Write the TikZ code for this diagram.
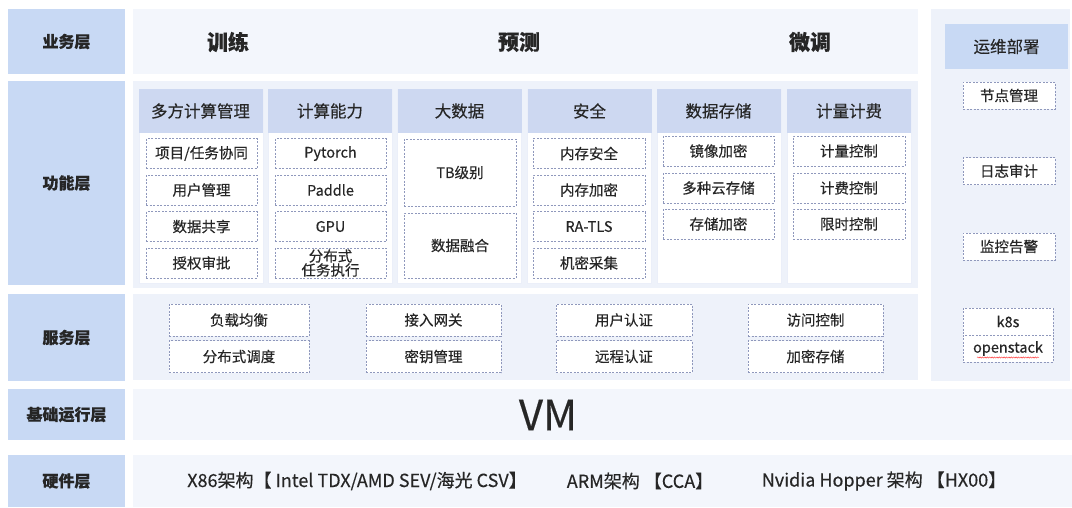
\documentclass[tikz,border=0pt]{standalone}
\usepackage{fontspec}
\setmainfont{Noto Sans CJK SC}[FakeBold=0.35]
\usetikzlibrary{decorations.pathmorphing}
\definecolor{labelblue}{HTML}{C8D9F4}
\definecolor{headblue}{HTML}{CDD8F1}
\definecolor{panel}{HTML}{EEF2FA}
\definecolor{topbar}{HTML}{F3F6FC}
\definecolor{dashc}{HTML}{8F98BC}
\definecolor{ink}{HTML}{262626}
\begin{document}
\begin{tikzpicture}[x=1pt,y=-1pt,
  every node/.style={inner sep=0pt, outer sep=0pt, text=ink},
  layerlabel/.style={fill=labelblue, minimum width=117pt, font=\fontsize{16}{18}\selectfont\bfseries},
  panelbox/.style={fill=panel},
  colhead/.style={fill=headblue, minimum width=124pt, minimum height=44pt, font=\fontsize{16.5}{18}\selectfont},
  colbody/.style={fill=white, draw=headblue!40, line width=0.4pt},
  item/.style={draw=dashc, line width=0.6pt, dash pattern=on 2pt off 1.5pt, fill=white,
    minimum height=30pt, align=center, font=\fontsize{14.5}{15}\selectfont},
  svc/.style={item, minimum height=32pt},
  opsitem/.style={item, minimum width=92pt, minimum height=27pt, font=\fontsize{14.5}{15}\selectfont},
  bigword/.style={font=\fontsize{21}{24}\selectfont\bfseries},
  hwtext/.style={font=\fontsize{18}{20}\selectfont}]
\useasboundingbox (0,0) rectangle (1072,507);

% layer labels
\node[layerlabel, minimum height=65pt]  (lbiz)  at (66.5,41.5)  {业务层};
\node[layerlabel, minimum height=204pt] (lfun)  at (66.5,183)   {功能层};
\node[layerlabel, minimum height=87pt]  (lsvc)  at (66.5,337.5) {服务层};
\node[layerlabel, minimum height=51pt]  (lbase) at (66.5,414.5) {基础运行层};
\node[layerlabel, minimum height=52pt]  (lhw)   at (66.5,481)   {硬件层};

% business layer
\fill[topbar] (133,9) rectangle (918,74);
\node[bigword] (train)   at (228,42) {训练};
\node[bigword] (predict) at (519,42) {预测};
\node[bigword] (tune)    at (810,42) {微调};

% function layer background and columns
\fill[panelbox] (133,81) rectangle (918,288);
\foreach \x in {139,268,397,527,657,787}
  \draw[colbody] (\x,89) rectangle ++(124,194);
\node[colhead] (h1) at (200.5,111) {多方计算管理};
\node[colhead] (h2) at (330,111)   {计算能力};
\node[colhead] (h3) at (459.5,111) {大数据};
\node[colhead] (h4) at (589.5,111) {安全};
\node[colhead] (h5) at (718.5,111) {数据存储};
\node[colhead] (h6) at (849,111)   {计量计费};

% column 1
\node[item, minimum width=111pt] (c1a) at (201.5,153.5) {项目/任务协同};
\node[item, minimum width=111pt] (c1b) at (201.5,190)   {用户管理};
\node[item, minimum width=111pt] (c1c) at (201.5,226.5) {数据共享};
\node[item, minimum width=111pt] (c1d) at (201.5,263)   {授权审批};
% column 2
\node[item, minimum width=111pt] (c2a) at (330.5,153.5) {Pytorch};
\node[item, minimum width=111pt] (c2b) at (330.5,190)   {Paddle};
\node[item, minimum width=111pt] (c2c) at (330.5,226.5) {GPU};
\node[item, minimum width=111pt, font=\fontsize{14.5}{14}\selectfont] (c2d) at (330.5,263) {分布式\\任务执行};
% column 3
\node[item, minimum width=112pt, minimum height=67pt] (c3a) at (460,172.5) {TB级别};
\node[item, minimum width=112pt, minimum height=65pt] (c3b) at (460,245.5) {数据融合};
% column 4
\node[item, minimum width=112pt] (c4a) at (589,153.5) {内存安全};
\node[item, minimum width=112pt] (c4b) at (589,190)   {内存加密};
\node[item, minimum width=112pt] (c4c) at (589,226.5) {RA-TLS};
\node[item, minimum width=112pt] (c4d) at (589,263)   {机密采集};
% column 5
\node[item, minimum width=111pt] (c5a) at (718.5,151) {镜像加密};
\node[item, minimum width=111pt] (c5b) at (718.5,188) {多种云存储};
\node[item, minimum width=111pt] (c5c) at (718.5,224) {存储加密};
% column 6
\node[item, minimum width=112pt] (c6a) at (849,151) {计量控制};
\node[item, minimum width=112pt] (c6b) at (849,188) {计费控制};
\node[item, minimum width=112pt] (c6c) at (849,224) {限时控制};

% service layer
\fill[panelbox] (133,294) rectangle (918,380);
\node[svc, minimum width=140pt] (s1a) at (239,320)     {负载均衡};
\node[svc, minimum width=140pt] (s1b) at (239,356.5)   {分布式调度};
\node[svc, minimum width=135pt] (s2a) at (433.5,320)   {接入网关};
\node[svc, minimum width=135pt] (s2b) at (433.5,356.5) {密钥管理};
\node[svc, minimum width=136pt] (s3a) at (624,320)     {用户认证};
\node[svc, minimum width=136pt] (s3b) at (624,356.5)   {远程认证};
\node[svc, minimum width=135pt] (s4a) at (815.5,320)   {访问控制};
\node[svc, minimum width=135pt] (s4b) at (815.5,356.5) {加密存储};

% operations column
\fill[panelbox] (931,9) rectangle (1070,381);
\node[fill=labelblue, minimum width=123pt, minimum height=45pt, font=\fontsize{16.5}{18}\selectfont] (ops) at (1006.5,46.5) {运维部署};
\node[opsitem] (o1) at (1009,95.5)  {节点管理};
\node[opsitem] (o2) at (1009,171)   {日志审计};
\node[opsitem] (o3) at (1009,246.5) {监控告警};
\node[opsitem, minimum width=90pt] (o4) at (1008,321.5) {k8s};
\node[opsitem, minimum width=90pt] (o5) at (1008,348.5) {openstack};
\draw[red!80, line width=0.45pt, decorate, decoration={snake, segment length=2.4pt, amplitude=0.6pt}]
  ([xshift=-31pt,yshift=-9pt]o5.center) -- ([xshift=31pt,yshift=-9pt]o5.center);

% base runtime layer
\fill[topbar] (133,389) rectangle (1072,440);
\node[font=\fontsize{42}{44}\selectfont] (vm) at (548,415) {VM};

% hardware layer
\fill[topbar] (133,455) rectangle (1072,507);
\node[hwtext] (hw1) at (357,481) {X86架构【 Intel TDX/AMD SEV/海光 CSV】};
\node[hwtext] (hw2) at (640,481) {ARM架构 【CCA】};
\node[hwtext] (hw3) at (884,481) {Nvidia Hopper 架构 【HX00】};
\end{tikzpicture}
\end{document}
